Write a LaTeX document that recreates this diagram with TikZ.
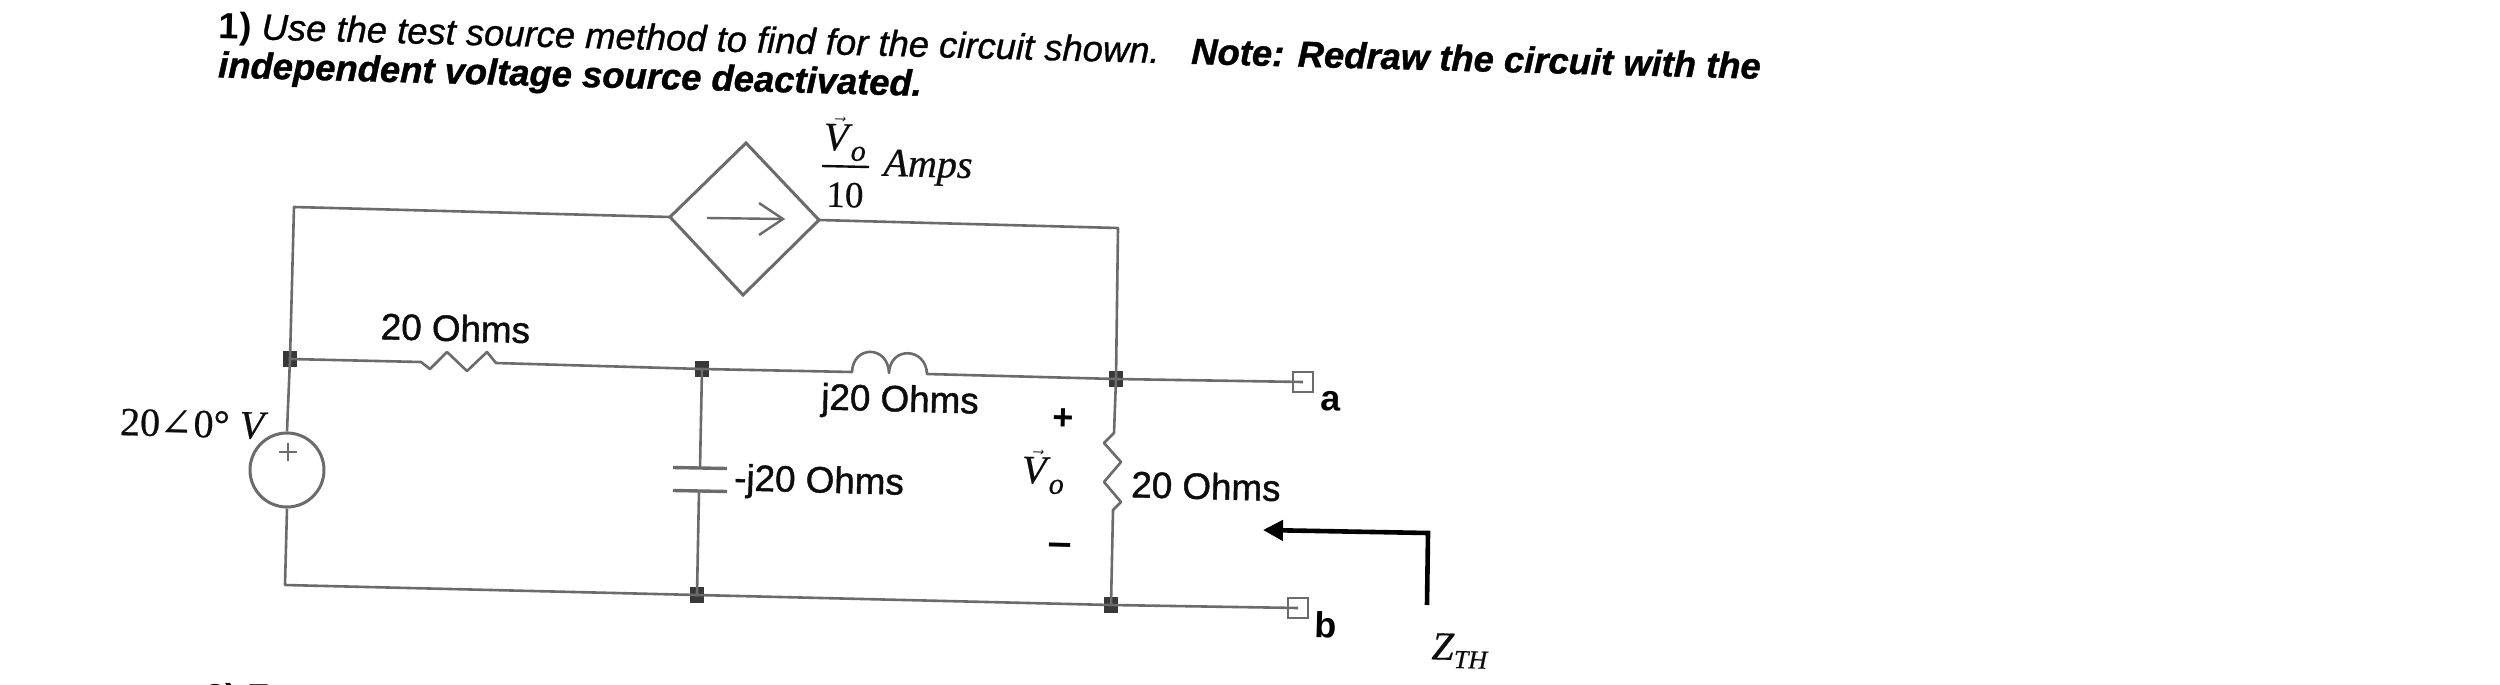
\documentclass[tikz,border=0pt]{standalone}
\usepackage{fontspec}
\setmainfont[ItalicFeatures={FakeBold=0.8},BoldItalicFeatures={FakeBold=1}]{Liberation Sans}
\newfontfamily\timesf[FakeBold=0.5]{Liberation Serif}
\newfontfamily\labelf[FakeBold=1.2]{Liberation Sans}
\newfontfamily\symf{DejaVu Serif}
\newfontfamily\minusf{DejaVu Sans}
\usetikzlibrary{arrows.meta}
\definecolor{wire}{gray}{0.42}
\definecolor{inkc}{gray}{0.05}
\definecolor{dotc}{gray}{0.22}
\tikzset{
  wireline/.style={draw=wire,line width=2.6pt,line join=round},
  elem/.style={draw=wire,line width=3pt,line join=miter},
  junct/.style={fill=dotc,draw=none,minimum width=14pt,minimum height=16pt,inner sep=0pt},
  termbox/.style={draw=wire,line width=2.4pt,minimum size=20pt,inner sep=0pt},
  lab/.style={inner sep=0pt,text=inkc,rotate=-1.5,font=\labelf\fontsize{36.8}{38}\selectfont},
  markb/.style={inner sep=0pt,text=black,rotate=-1.5,font=\bfseries\fontsize{36}{38}\selectfont},
  serif/.style={inner sep=0pt,text=inkc,rotate=-1.5,font=\timesf\fontsize{40}{42}\selectfont},
  titleline/.style={inner sep=0pt,anchor=west,text=black,rotate=-1.5,font=\fontsize{36.4}{38}\selectfont},
}
\newcommand{\subo}{\raisebox{-10pt}{\fontsize{30}{30}\selectfont\textit{o}}}
\begin{document}
\begin{tikzpicture}[x=1pt,y=-1pt]
\useasboundingbox (0,0) rectangle (2500,685);
\fill[white] (0,0) rectangle (2500,685);
% title
\node[titleline] (t1) at (219,29) {\textbf{1)} \textit{Use the test source method to find for the circuit shown.}\hspace{0.5em} \textbf{\textit{Note: Redraw the circuit with the}}};
\node[titleline] (t2) at (218,68) {\textbf{\textit{independent voltage source deactivated.}}};
% junctions and terminals
\node[junct] (n1) at (290,359) {};
\node[junct] (n2) at (702,369) {};
\node[junct] (n3) at (1116,379) {};
\node[junct] (n4) at (697,595) {};
\node[junct] (n5) at (1111,605) {};
\node[termbox] (ta) at (1303,382) {};
\node[termbox] (tb) at (1298,608) {};
\coordinate (tl) at (294,207);
\coordinate (tr) at (1118,228);
\coordinate (bl) at (285,585);
% dependent source
\coordinate (dl) at (670,217);
\coordinate (dr) at (819,220);
\coordinate (dt) at (746,143);
\coordinate (db) at (743,295);
\draw[elem] (dl) -- (dt) -- (dr) -- (db) -- cycle;
\draw[wire,line width=2.4pt] (707,218) -- (783,219);
\draw[wire,line width=2.4pt] (759,203) -- (783,219) -- (759,235);
% voltage source
\node[draw=wire,line width=3pt,circle,minimum size=74pt,inner sep=0pt] (vs) at (287,470) {};
\draw[wire,line width=2pt] (279,452) -- (297,452) (288,443) -- (288,461);
% wires
\draw[wireline] (dl) -- (tl) -- (n1.center) -- (vs.north);
\draw[wireline] (dr) -- (tr) -- (n3.center);
\draw[wireline] (vs.south) -- (bl) -- (n4.center) -- (n5.center) -- (tb.center);
\draw[wireline] (n3.center) -- (ta.center);
% horizontal resistor
\coordinate (ra) at (421,362);
\coordinate (rb) at (496,363);
\draw[wireline] (n1.center) -- (ra) -- (430,369) -- (447,352) -- (467,371) -- (487,352) -- (rb) -- (n2.center);
% inductor
\coordinate (la) at (852,372);
\coordinate (lb) at (927,374);
\draw[wireline] (n2.center) -- (la) .. controls (853,345) and (888,345) .. (889,373) .. controls (890,346) and (926,347) .. (lb) -- (n3.center);
% capacitor
\coordinate (ca) at (700,468);
\coordinate (cb) at (699,491);
\draw[wireline] (n2.center) -- (ca);
\draw[wireline] (cb) -- (n4.center);
\draw[wire,line width=3.4pt] (673,467.5) -- (727,468.5);
\draw[wire,line width=3.4pt] (673,490.5) -- (727,491.5);
% vertical resistor
\draw[wireline] (n3.center) -- (1114,433) -- (1104,443) -- (1121,462) -- (1104,482) -- (1121,502) -- (1113,510) -- (n5.center);
% Zth arrow
\coordinate (za) at (1427,605);
\coordinate (zb) at (1428,533);
\coordinate (zc) at (1263,530);
\draw[black,line width=4.6pt,-{Triangle[length=20pt,width=20pt]}] (za) -- (zb) -- (zc);
% labels
\node[lab] (l1) at (455.5,328) {20 Ohms};
\node[lab] (l2) at (900,402) {j20 Ohms};
\node[lab] (l3) at (819,483) {-j20 Ohms};
\node[lab] (l4) at (1206,486) {20 Ohms};
\node[markb] (la1) at (1331,401) {a};
\node[markb] (lb1) at (1326,625) {b};
\node[markb] (pl) at (1063,419) {+};
\node[markb,font=\minusf\bfseries\fontsize{34}{34}\selectfont] (mi) at (1060,550) {−};
\node[serif] (vo) at (1043,472) {$\vec{\mbox{\textit{V}}}$\kern-1pt\subo};
\node[serif] (vt) at (845,139) {$\vec{\mbox{\textit{V}}}$\kern-1pt\subo};
\draw[inkc,line width=2.4pt] (822,166) -- (869,167);
\node[serif,font=\timesf\fontsize{37}{40}\selectfont] (ten) at (845,195) {10};
\node[serif] (amp) at (928,168) {\textit{Amps}};
\node[serif] (src) at (194,424) {20{\symf ∠}0° \textit{V}};
\node[serif] (zth) at (1460,651) {\textit{Z}\raisebox{-8pt}{\fontsize{26}{28}\selectfont\textit{TH}}};
\node[inner sep=0pt,anchor=west,text=black,font=\bfseries\fontsize{36}{38}\selectfont] (q2) at (205,700) {2) F};
\end{tikzpicture}
\end{document}
